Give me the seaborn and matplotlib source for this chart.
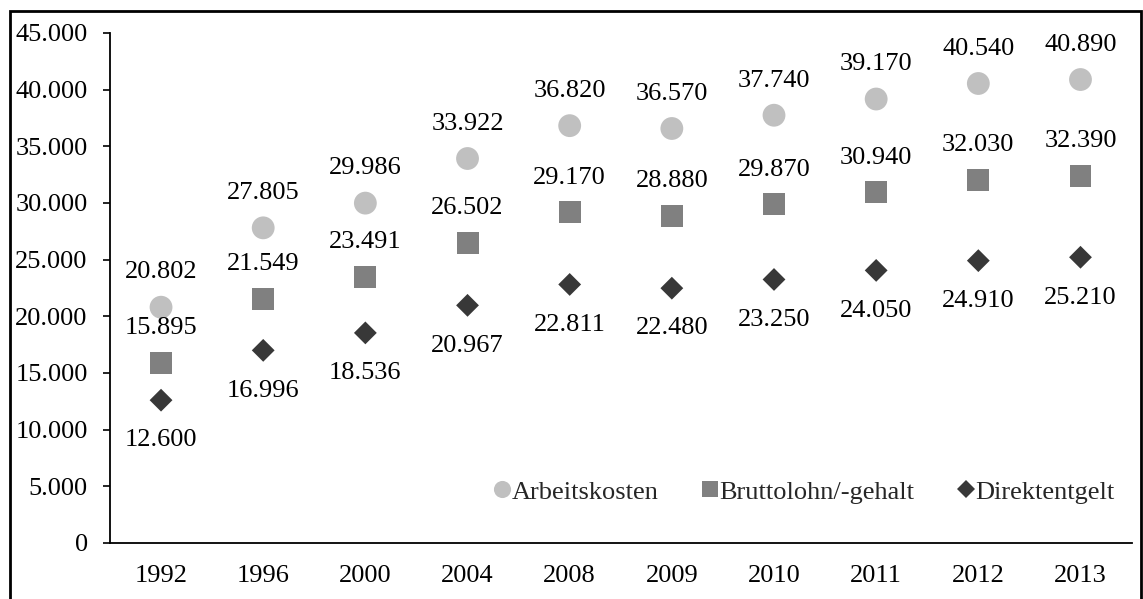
import numpy as np
import pandas as pd
import seaborn as sns
import matplotlib.pyplot as plt
from matplotlib.patches import Rectangle

years = ["1992", "1996", "2000", "2004", "2008", "2009", "2010", "2011", "2012", "2013"]
arbeitskosten = [20802, 27805, 29986, 33922, 36820, 36570, 37740, 39170, 40540, 40890]
bruttolohn = [15895, 21549, 23491, 26502, 29170, 28880, 29870, 30940, 32030, 32390]
direktentgelt = [12600, 16996, 18536, 20967, 22811, 22480, 23250, 24050, 24910, 25210]
series_names = ["Arbeitskosten", "Bruttolohn/-gehalt", "Direktentgelt"]
y_ticks = [0, 5000, 10000, 15000, 20000, 25000, 30000, 35000, 40000, 45000]


def de(v):
	return f"{v:,.0f}".replace(",", ".")


df = pd.DataFrame({
	"Jahr": years * 3,
	"Wert": arbeitskosten + bruttolohn + direktentgelt,
	"Serie": [s for s in series_names for _ in years],
})

sns.set_theme(style="white")
plt.rcParams["font.family"] = ["Liberation Serif", "DejaVu Serif"]
FS = 19

fig, ax = plt.subplots(figsize=(11.43, 5.99), dpi=100)
fig.subplots_adjust(left=0.0962, right=0.990, top=0.945, bottom=0.0935)

colors = {"Arbeitskosten": "#c0c0c0", "Bruttolohn/-gehalt": "#808080", "Direktentgelt": "#383838"}
markers = {"Arbeitskosten": "o", "Bruttolohn/-gehalt": "s", "Direktentgelt": "D"}
sizes = {"Arbeitskosten": 270, "Bruttolohn/-gehalt": 250, "Direktentgelt": 135}

sns.scatterplot(data=df, x="Jahr", y="Wert", hue="Serie", style="Serie", size="Serie",
				palette=colors, markers=markers, sizes=sizes, linewidth=0, ax=ax)

# data labels: above for first two series, below for the last one
for name, off in zip(series_names, [25, 25, -29]):
	sub = df[df["Serie"] == name]
	for i, v in enumerate(sub["Wert"]):
		ax.annotate(de(v), (i, v), xytext=(0, off), textcoords="offset points",
					ha="center", va="center", fontsize=FS, color="black")

ax.set_xlim(-0.5, len(years) - 0.5)
ax.set_ylim(0, 45000)
ax.set_yticks(y_ticks)
ax.set_yticklabels([de(t) for t in y_ticks], fontsize=FS)
ax.set_xticks(range(len(years)))
ax.set_xticklabels(years, fontsize=FS)
ax.set_xticks(np.arange(-0.5, len(years), 1), minor=True)
ax.tick_params(axis="x", which="major", length=0, pad=16, colors="black")
ax.tick_params(axis="x", which="minor", length=5, width=1.2, direction="out", color="black")
ax.tick_params(axis="y", length=5, width=1.2, direction="out", pad=11, colors="black", left=True)
ax.set_xlabel("")
ax.set_ylabel("")
for s in ["top", "right"]:
	ax.spines[s].set_visible(False)
for s in ["left", "bottom"]:
	ax.spines[s].set_color("black")
	ax.spines[s].set_linewidth(1.3)

leg = ax.legend(loc="center right", bbox_to_anchor=(0.983, 0.10), ncol=3, frameon=False,
				fontsize=FS, handlelength=0.7, handletextpad=0.0, columnspacing=1.6,
				borderaxespad=0, borderpad=0, markerscale=0.75)

fig.patches.append(Rectangle((10 / 1143, -0.02), 1131 / 1143, 0.982 + 0.02, transform=fig.transFigure,
							 fill=False, edgecolor="black", linewidth=2))

fig.savefig("out.png", dpi=100)
